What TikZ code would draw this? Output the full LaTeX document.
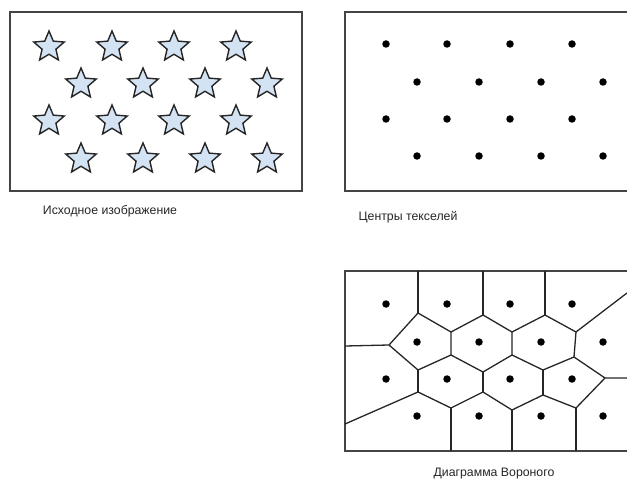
\documentclass[tikz,border=0pt]{standalone}
\usepackage{fontspec}
\setmainfont{Liberation Sans}
\usetikzlibrary{shapes.geometric}
\definecolor{starblue}{HTML}{D3E3F3}
\definecolor{frame}{HTML}{444444}
\begin{document}
\begin{tikzpicture}[x=1pt,y=-1pt,
  panel/.style={draw=frame,line width=1.3pt},
  starnode/.style={star,star points=5,star point ratio=2.2,minimum size=32pt,inner sep=0pt,draw=black!85,line width=1.4pt,fill=starblue},
  dotnode/.style={circle,fill=black,minimum size=7.5pt,inner sep=0pt},
  cell/.style={draw=black!85,line width=1.3pt,line join=round},
  caption/.style={font=\fontsize{12.3}{14}\selectfont,text=black!85}]
\useasboundingbox (0,0) rectangle (627,484);
\clip (0,0) rectangle (627,484);
% panel 1: stars
\draw[panel] (10,12) rectangle (302,191);
\foreach \x [count=\i] in {49,112,174,236}{
  \node[starnode] (sa\i) at (\x,47) {};
  \node[starnode] (sc\i) at (\x,121) {};
}
\foreach \x [count=\i] in {81,143,205,267}{
  \node[starnode] (sb\i) at (\x,84) {};
  \node[starnode] (sd\i) at (\x,159) {};
}
\node[caption] (cap1) at (110,211) {Исходное изображение};
% panel 2: texel centres
\draw[panel] (635,12) -- (345,12) -- (345,191) -- (635,191);
\foreach \x [count=\i] in {386,447,510,572}{
  \node[dotnode] (pa\i) at (\x,44) {};
  \node[dotnode] (pc\i) at (\x,119) {};
}
\foreach \x [count=\i] in {417,479,541,603}{
  \node[dotnode] (pb\i) at (\x,82) {};
  \node[dotnode] (pd\i) at (\x,156) {};
}
\node[caption] (cap2) at (408,217) {Центры текселей};
% panel 3: Voronoi
\draw[panel] (635,271) -- (345,271) -- (345,451) -- (635,451);
\foreach \x [count=\i] in {386,447,510,572}{
  \node[dotnode] (va\i) at (\x,304) {};
  \node[dotnode] (vc\i) at (\x,379) {};
}
\foreach \x [count=\i] in {417,479,541,603}{
  \node[dotnode] (vb\i) at (\x,342) {};
  \node[dotnode] (vd\i) at (\x,416) {};
}
\coordinate (T1) at (418,271); \coordinate (T2) at (483,271); \coordinate (T3) at (545,271);
\coordinate (V1) at (418,313); \coordinate (V2) at (483,315); \coordinate (V3) at (545,315);
\coordinate (A) at (389,345); \coordinate (L1) at (345,346);
\coordinate (B) at (451,332); \coordinate (C) at (512,332); \coordinate (D) at (576,332);
\coordinate (R1) at (627,293);
\coordinate (B2) at (451,355); \coordinate (C2) at (512,355); \coordinate (D2) at (574,357);
\coordinate (E) at (418,370); \coordinate (F) at (483,372); \coordinate (G) at (543,370);
\coordinate (H) at (605,378); \coordinate (R2) at (627,378);
\coordinate (E2) at (418,392); \coordinate (F2) at (483,392); \coordinate (G2) at (543,395);
\coordinate (L2) at (345,424);
\coordinate (I) at (451,408); \coordinate (J) at (512,410); \coordinate (K) at (576,408);
\coordinate (I3) at (451,451); \coordinate (J3) at (512,451); \coordinate (K3) at (576,451);
\draw[cell] (T1) -- (V1) (T2) -- (V2) (T3) -- (V3);
\draw[cell] (L1) -- (A) -- (V1) -- (B) -- (V2) -- (C) -- (V3) -- (D) -- (R1);
\draw[cell] (B) -- (B2) (C) -- (C2) (D) -- (D2);
\draw[cell] (A) -- (E) -- (B2) -- (F) -- (C2) -- (G) -- (D2) -- (H) -- (R2);
\draw[cell] (E) -- (E2) (F) -- (F2) (G) -- (G2);
\draw[cell] (L2) -- (E2) -- (I) -- (F2) -- (J) -- (G2) -- (K) -- (H);
\draw[cell] (I) -- (I3) (J) -- (J3) (K) -- (K3);
\node[caption] (cap3) at (494,474) {Диаграмма Вороного};
\end{tikzpicture}
\end{document}
